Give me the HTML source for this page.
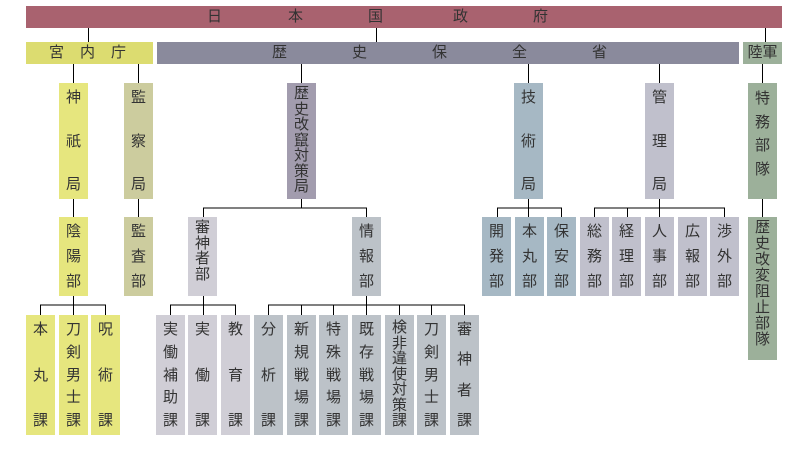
<!DOCTYPE html>
<html><head><meta charset="utf-8"><style>
body{margin:0;width:800px;height:450px;background:#fff;position:relative;overflow:hidden;font-family:"Liberation Sans","Noto Sans CJK JP",sans-serif;color:#333;font-size:15px}
.b{position:absolute;box-sizing:border-box}
.v{display:flex;flex-direction:column;align-items:center;justify-content:space-between;padding:6px 0 6px;line-height:17px}
.t{display:flex;flex-direction:column;align-items:center;justify-content:flex-start;padding-top:3px;line-height:15.5px}
.h{position:absolute;top:0;line-height:22px}
svg{position:absolute;left:0;top:0}
</style></head><body>
<svg width="800" height="450"><g stroke="#000" stroke-width="1" fill="none">
<path d="M88.5 28V42M376.5 28V42M765.5 28V42"/>
<path d="M73.5 64V83M138.5 64V83M301.5 64V83M528.5 64V83M659.5 64V83M762.5 64V83"/>
<path d="M73.5 199V217M138.5 199V217M762.5 199V217"/>
<path d="M301.5 199V208M203.5 217V208H366.5V217"/>
<path d="M528.5 199V217M497.5 217V208H561.5V217"/>
<path d="M659.5 199V217M594.5 217V208H724.5V217M627.5 208V217"/>
<path d="M73.5 296V315M40.5 315V305H105.5V315"/>
<path d="M203.5 296V315M170.5 315V305H235.5V315"/>
<path d="M366.5 296V315M268.5 315V305H464.5V315M301.5 305V315M333.5 305V315M399.5 305V315M431.5 305V315"/>
</g></svg>
<div class="b" style="left:26px;top:6px;width:756px;height:22px;background:#a9626f">
<span class="h" style="left:181px">日</span><span class="h" style="left:262px">本</span><span class="h" style="left:342px">国</span><span class="h" style="left:427px">政</span><span class="h" style="left:507px">府</span></div>
<div class="b" style="left:26px;top:42px;width:127px;height:22px;background:#dcdc70">
<span class="h" style="left:23px">宮</span><span class="h" style="left:54px">内</span><span class="h" style="left:85px">庁</span></div>
<div class="b" style="left:157px;top:42px;width:582px;height:22px;background:#8a8a9c">
<span class="h" style="left:115px">歴</span><span class="h" style="left:195px">史</span><span class="h" style="left:275px">保</span><span class="h" style="left:355px">全</span><span class="h" style="left:435px">省</span></div>
<div class="b" style="left:743px;top:42px;width:39px;height:22px;background:#9cb09a;text-align:center;line-height:22px">陸軍</div>

<div class="b v" style="left:59px;top:83px;width:29px;height:116px;background:#e6e67e"><span>神</span><span>祇</span><span>局</span></div>
<div class="b v" style="left:124px;top:83px;width:29px;height:116px;background:#cccc9e"><span>監</span><span>察</span><span>局</span></div>
<div class="b t" style="left:287px;top:83px;width:29px;height:116px;background:#a29cae"><span>歴</span><span>史</span><span>改</span><span>竄</span><span>対</span><span>策</span><span>局</span></div>
<div class="b v" style="left:514px;top:83px;width:29px;height:116px;background:#a6b8c4"><span>技</span><span>術</span><span>局</span></div>
<div class="b v" style="left:645px;top:83px;width:29px;height:116px;background:#c0c0cc"><span>管</span><span>理</span><span>局</span></div>
<div class="b v" style="left:748px;top:83px;width:29px;height:116px;background:#9cb09a;justify-content:flex-start;line-height:23.5px;padding-top:4px"><span>特</span><span>務</span><span>部</span><span>隊</span></div>

<div class="b v" style="left:59px;top:217px;width:29px;height:79px;background:#e6e67e"><span>陰</span><span>陽</span><span>部</span></div>
<div class="b v" style="left:124px;top:217px;width:29px;height:79px;background:#cccc9e"><span>監</span><span>査</span><span>部</span></div>
<div class="b t" style="left:188px;top:217px;width:29px;height:79px;background:#d0ced6"><span>審</span><span>神</span><span>者</span><span>部</span></div>
<div class="b v" style="left:352px;top:217px;width:29px;height:79px;background:#bcc2c8"><span>情</span><span>報</span><span>部</span></div>
<div class="b v" style="left:482px;top:217px;width:29px;height:79px;background:#a6b8c4"><span>開</span><span>発</span><span>部</span></div>
<div class="b v" style="left:515px;top:217px;width:29px;height:79px;background:#a6b8c4"><span>本</span><span>丸</span><span>部</span></div>
<div class="b v" style="left:547px;top:217px;width:29px;height:79px;background:#a6b8c4"><span>保</span><span>安</span><span>部</span></div>
<div class="b v" style="left:580px;top:217px;width:29px;height:79px;background:#c0c0cc"><span>総</span><span>務</span><span>部</span></div>
<div class="b v" style="left:612px;top:217px;width:29px;height:79px;background:#c0c0cc"><span>経</span><span>理</span><span>部</span></div>
<div class="b v" style="left:645px;top:217px;width:29px;height:79px;background:#c0c0cc"><span>人</span><span>事</span><span>部</span></div>
<div class="b v" style="left:678px;top:217px;width:29px;height:79px;background:#c0c0cc"><span>広</span><span>報</span><span>部</span></div>
<div class="b v" style="left:710px;top:217px;width:29px;height:79px;background:#c0c0cc"><span>渉</span><span>外</span><span>部</span></div>
<div class="b t" style="left:748px;top:217px;width:29px;height:143px;background:#9cb09a;line-height:16px"><span>歴</span><span>史</span><span>改</span><span>変</span><span>阻</span><span>止</span><span>部</span><span>隊</span></div>

<div class="b v" style="left:26px;top:315px;width:29px;height:120px;background:#e6e67e"><span>本</span><span>丸</span><span>課</span></div>
<div class="b v" style="left:59px;top:315px;width:29px;height:120px;background:#e6e67e"><span>刀</span><span>剣</span><span>男</span><span>士</span><span>課</span></div>
<div class="b v" style="left:91px;top:315px;width:29px;height:120px;background:#e6e67e"><span>呪</span><span>術</span><span>課</span></div>
<div class="b v" style="left:156px;top:315px;width:29px;height:120px;background:#d0ced6"><span>実</span><span>働</span><span>補</span><span>助</span><span>課</span></div>
<div class="b v" style="left:188px;top:315px;width:29px;height:120px;background:#d0ced6"><span>実</span><span>働</span><span>課</span></div>
<div class="b v" style="left:221px;top:315px;width:29px;height:120px;background:#d0ced6"><span>教</span><span>育</span><span>課</span></div>
<div class="b v" style="left:254px;top:315px;width:29px;height:120px;background:#bcc2c8"><span>分</span><span>析</span><span>課</span></div>
<div class="b v" style="left:287px;top:315px;width:29px;height:120px;background:#bcc2c8"><span>新</span><span>規</span><span>戦</span><span>場</span><span>課</span></div>
<div class="b v" style="left:319px;top:315px;width:29px;height:120px;background:#bcc2c8"><span>特</span><span>殊</span><span>戦</span><span>場</span><span>課</span></div>
<div class="b v" style="left:352px;top:315px;width:29px;height:120px;background:#bcc2c8"><span>既</span><span>存</span><span>戦</span><span>場</span><span>課</span></div>
<div class="b t" style="left:385px;top:315px;width:29px;height:120px;background:#bcc2c8;padding-top:5px;line-height:15.5px"><span>検</span><span>非</span><span>違</span><span>使</span><span>対</span><span>策</span><span>課</span></div>
<div class="b v" style="left:417px;top:315px;width:29px;height:120px;background:#bcc2c8"><span>刀</span><span>剣</span><span>男</span><span>士</span><span>課</span></div>
<div class="b v" style="left:450px;top:315px;width:29px;height:120px;background:#bcc2c8"><span>審</span><span>神</span><span>者</span><span>課</span></div>
</body></html>
